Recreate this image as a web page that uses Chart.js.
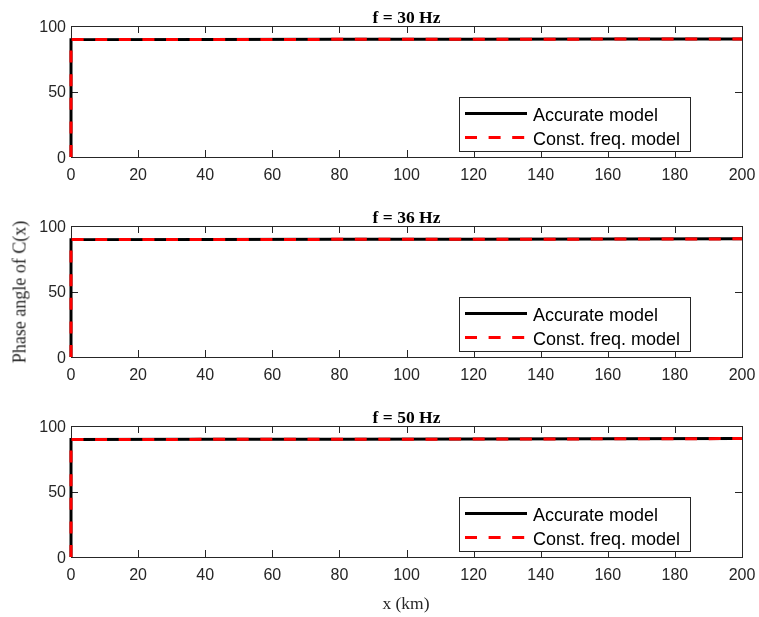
<!DOCTYPE html>
<html>
<head>
<meta charset="utf-8">
<script src="https://cdn.jsdelivr.net/npm/chart.js@4.4.1/dist/chart.umd.min.js"></script>
<style>
  body { margin: 0; background: #fff; }
  #pagina { position: relative; width: 759px; height: 617px; }
  #pagina canvas { position: absolute; left: 0; }
  #rotuloY {
    position: absolute; left: 20px; top: 292px;
    transform: translate(-50%, -50%) rotate(-90deg);
    font: 18px "Liberation Serif", serif; color: #262626; white-space: nowrap;
  }
  #rotuloX {
    position: absolute; left: 406px; top: 603px;
    transform: translate(-50%, -50%);
    font: 17.5px "Liberation Serif", serif; color: #262626; white-space: nowrap;
  }
</style>
</head>
<body>
<div id="pagina">
  <canvas id="grafico30" width="759" height="200" style="top:0px"></canvas>
  <canvas id="grafico36" width="759" height="200" style="top:200px"></canvas>
  <canvas id="grafico50" width="759" height="200" style="top:400px"></canvas>
  <div id="rotuloY">Phase angle of C(x)</div>
  <div id="rotuloX">x (km)</div>
</div>
<script>
// distância ao longo da linha (km) e ângulo de fase de C(x) em graus
const posicaoKm = [0, 0, 40, 80, 120, 160, 200];

const faseExata30 = [0, 89.6, 89.7, 89.8, 89.9, 90.0, 90.1];
const faseConst30 = [0, 89.6, 89.7, 89.8, 89.9, 90.0, 90.1];

const faseExata36 = [0, 89.6, 89.7, 89.8, 89.9, 90.0, 90.2];
const faseConst36 = [0, 89.6, 89.7, 89.8, 89.9, 90.0, 90.2];

const faseExata50 = [0, 89.7, 89.8, 89.9, 90.0, 90.2, 90.4];
const faseConst50 = [0, 89.7, 89.8, 89.9, 90.0, 90.2, 90.4];

const ticksX = [0, 20, 40, 60, 80, 100, 120, 140, 160, 180, 200];
const ticksY = [0, 50, 100];

const COR_EIXO = "#262626";
const FONTE_LEGENDA = "18px 'Liberation Sans', Arial, sans-serif";
const FONTE_TITULO = "bold 17.5px 'Liberation Serif', 'Times New Roman', serif";

Chart.defaults.font.family = "'Liberation Sans', Arial, sans-serif";
Chart.defaults.font.size = 16;
Chart.defaults.color = COR_EIXO;

// caixa dos eixos com marcas de escala para dentro, estilo MATLAB
const pluginMoldura = {
  id: "moldura",
  beforeDatasetsDraw(chart) {
    const { ctx, chartArea: a, scales } = chart;
    ctx.save();
    ctx.strokeStyle = COR_EIXO;
    ctx.lineWidth = 1;
    ctx.strokeRect(a.left + 0.5, a.top + 0.5, a.right - a.left, a.bottom - a.top);

    ctx.beginPath();
    ticksX.forEach(v => {
      const px = Math.round(scales.x.getPixelForValue(v)) + 0.5;
      ctx.moveTo(px, a.bottom);
      ctx.lineTo(px, a.bottom - 7);
      ctx.moveTo(px, a.top);
      ctx.lineTo(px, a.top + 7);
    });
    ticksY.forEach(v => {
      const py = Math.round(scales.y.getPixelForValue(v)) + 0.5;
      ctx.moveTo(a.left, py);
      ctx.lineTo(a.left + 7, py);
      ctx.moveTo(a.right, py);
      ctx.lineTo(a.right - 7, py);
    });
    ctx.stroke();

    // título do painel, centrado sobre a área do gráfico
    ctx.fillStyle = "#000";
    ctx.font = FONTE_TITULO;
    ctx.textAlign = "center";
    ctx.textBaseline = "alphabetic";
    ctx.fillText(chart.options.plugins.moldura.titulo, (a.left + a.right) / 2, 23);
    ctx.restore();
  },
  afterDatasetsDraw(chart) {
    const { ctx, chartArea: a } = chart;
    const largura = 231;
    const altura = 54;
    const x0 = a.right - 283;
    const y0 = a.bottom - 60;

    ctx.save();
    ctx.fillStyle = "#fff";
    ctx.fillRect(x0, y0, largura, altura);
    ctx.strokeStyle = COR_EIXO;
    ctx.lineWidth = 1;
    ctx.strokeRect(x0 + 0.5, y0 + 0.5, largura, altura);

    chart.data.datasets.slice().reverse().forEach((ds, i) => {
      const y = y0 + 16.5 + i * 24;
      ctx.beginPath();
      ctx.strokeStyle = ds.borderColor;
      ctx.lineWidth = ds.borderWidth;
      ctx.setLineDash(ds.borderDash || []);
      ctx.moveTo(x0 + 6, y);
      ctx.lineTo(x0 + 68, y);
      ctx.stroke();
      ctx.setLineDash([]);
      ctx.fillStyle = "#000";
      ctx.font = FONTE_LEGENDA;
      ctx.textAlign = "left";
      ctx.textBaseline = "middle";
      ctx.fillText(ds.label, x0 + 74, y + 2.5);
    });
    ctx.restore();
  }
};

function pontos(valores) {
  return posicaoKm.map((x, i) => ({ x, y: valores[i] }));
}

function criarPainel(id, titulo, exata, constante) {
  const canvas = document.getElementById(id);

  return new Chart(canvas, {
    type: "line",
    data: {
      datasets: [
        {
          label: "Const. freq. model",
          data: pontos(constante),
          borderColor: "#ff0000",
          borderWidth: 3,
          borderDash: [12, 11.6],
          pointRadius: 0,
          clip: 6,
          order: 1
        },
        {
          label: "Accurate model",
          data: pontos(exata),
          borderColor: "#000000",
          borderWidth: 3,
          pointRadius: 0,
          clip: 6,
          order: 2
        }
      ]
    },
    options: {
      responsive: false,
      animation: false,
      events: [],
      layout: { padding: { top: 26, right: 17, bottom: 0, left: 0 } },
      plugins: {
        legend: { display: false },
        tooltip: { enabled: false },
        moldura: { titulo }
      },
      scales: {
        x: {
          type: "linear",
          min: 0,
          max: 200,
          afterFit: scale => {
            scale.height = 43;
            scale.paddingLeft = 0;
            scale.paddingRight = 0;
          },
          afterBuildTicks: scale => { scale.ticks = ticksX.map(value => ({ value })); },
          grid: { display: false, drawTicks: false },
          border: { display: false },
          ticks: { padding: 9, maxRotation: 0, color: COR_EIXO }
        },
        y: {
          type: "linear",
          min: 0,
          max: 100,
          afterFit: scale => {
            scale.width = 71;
            scale.paddingTop = 0;
            scale.paddingBottom = 0;
          },
          afterBuildTicks: scale => { scale.ticks = ticksY.map(value => ({ value })); },
          grid: { display: false, drawTicks: false },
          border: { display: false },
          ticks: { padding: 5, labelOffset: 1.5, color: COR_EIXO }
        }
      }
    },
    plugins: [pluginMoldura]
  });
}

criarPainel("grafico30", "f = 30 Hz", faseExata30, faseConst30);
criarPainel("grafico36", "f = 36 Hz", faseExata36, faseConst36);
criarPainel("grafico50", "f = 50 Hz", faseExata50, faseConst50);
</script>
</body>
</html>
